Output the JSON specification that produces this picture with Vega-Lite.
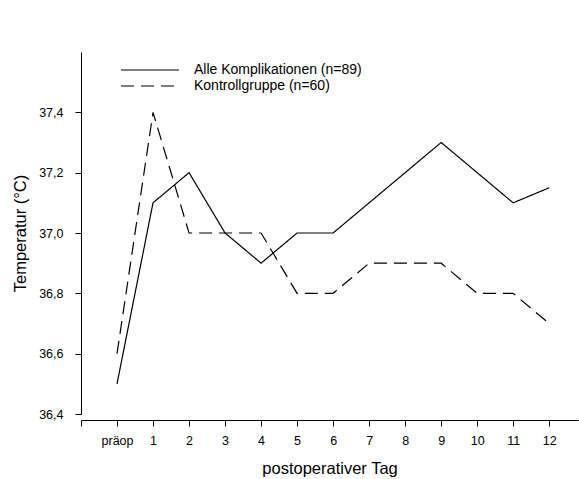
{
  "$schema": "https://vega.github.io/schema/vega-lite/v6.json",
  "width": 497,
  "height": 362,
  "autosize": {"type": "none"},
  "padding": {"left": 81, "top": 52, "right": 1, "bottom": 65},
  "background": "white",
  "config": {
    "view": {"stroke": null},
    "font": "Liberation Sans",
    "axis": {"grid": false, "domainColor": "black", "tickColor": "black", "labelColor": "black", "titleColor": "black", "labelFont": "Liberation Sans", "titleFont": "Liberation Sans", "titleFontWeight": "normal", "labelFontSize": 12.5, "titleFontSize": 16.5, "tickSize": 6, "domainWidth": 1, "tickWidth": 1}
  },
  "data": {"values": [
    {"g": "Alle Komplikationen (n=89)", "tag": 0, "t": 36.5},
    {"g": "Alle Komplikationen (n=89)", "tag": 1, "t": 37.1},
    {"g": "Alle Komplikationen (n=89)", "tag": 2, "t": 37.2},
    {"g": "Alle Komplikationen (n=89)", "tag": 3, "t": 37.0},
    {"g": "Alle Komplikationen (n=89)", "tag": 4, "t": 36.9},
    {"g": "Alle Komplikationen (n=89)", "tag": 5, "t": 37.0},
    {"g": "Alle Komplikationen (n=89)", "tag": 6, "t": 37.0},
    {"g": "Alle Komplikationen (n=89)", "tag": 7, "t": 37.1},
    {"g": "Alle Komplikationen (n=89)", "tag": 8, "t": 37.2},
    {"g": "Alle Komplikationen (n=89)", "tag": 9, "t": 37.3},
    {"g": "Alle Komplikationen (n=89)", "tag": 10, "t": 37.2},
    {"g": "Alle Komplikationen (n=89)", "tag": 11, "t": 37.1},
    {"g": "Alle Komplikationen (n=89)", "tag": 12, "t": 37.15},
    {"g": "Kontrollgruppe (n=60)", "tag": 0, "t": 36.6},
    {"g": "Kontrollgruppe (n=60)", "tag": 1, "t": 37.4},
    {"g": "Kontrollgruppe (n=60)", "tag": 2, "t": 37.0},
    {"g": "Kontrollgruppe (n=60)", "tag": 3, "t": 37.0},
    {"g": "Kontrollgruppe (n=60)", "tag": 4, "t": 37.0},
    {"g": "Kontrollgruppe (n=60)", "tag": 5, "t": 36.8},
    {"g": "Kontrollgruppe (n=60)", "tag": 6, "t": 36.8},
    {"g": "Kontrollgruppe (n=60)", "tag": 7, "t": 36.9},
    {"g": "Kontrollgruppe (n=60)", "tag": 8, "t": 36.9},
    {"g": "Kontrollgruppe (n=60)", "tag": 9, "t": 36.9},
    {"g": "Kontrollgruppe (n=60)", "tag": 10, "t": 36.8},
    {"g": "Kontrollgruppe (n=60)", "tag": 11, "t": 36.8},
    {"g": "Kontrollgruppe (n=60)", "tag": 12, "t": 36.7}
  ]},
  "mark": {"type": "line", "color": "black", "strokeWidth": 1.2, "clip": false},
  "encoding": {
    "x": {
      "field": "tag", "type": "quantitative",
      "scale": {"domain": [-1, 12.8], "nice": false, "zero": false},
      "axis": {
        "title": "postoperativer Tag",
        "values": [-1, 0, 1, 2, 3, 4, 5, 6, 7, 8, 9, 10, 11, 12],
        "labelExpr": "datum.value == 0 ? 'präop' : (datum.value < 0 ? '' : format(datum.value, 'd'))",
        "offset": 6,
        "labelPadding": 8,
        "titleY": 48,
        "titleBaseline": "middle"
      }
    },
    "y": {
      "field": "t", "type": "quantitative",
      "scale": {"domain": [36.4, 37.6], "nice": false, "zero": false},
      "axis": {
        "title": "Temperatur (°C)",
        "values": [36.4, 36.6, 36.8, 37.0, 37.2, 37.4],
        "labelExpr": "replace(format(datum.value, '.1f'), '.', ',')",
        "labelPadding": 12,
        "titleX": -61,
        "titleY": 181,
        "titleBaseline": "middle"
      }
    },
    "strokeDash": {
      "field": "g", "type": "nominal",
      "scale": {"domain": ["Alle Komplikationen (n=89)", "Kontrollgruppe (n=60)"], "range": [[1, 0], [13, 7]]},
      "legend": {
        "title": null,
        "orient": "none",
        "legendX": 39,
        "legendY": 10,
        "symbolType": "stroke",
        "symbolSize": 3364,
        "clipHeight": 16,
        "symbolStrokeColor": "black",
        "symbolStrokeWidth": 1.2,
        "labelFontSize": 14,
        "labelLimit": 400,
        "labelFont": "Liberation Sans",
        "labelColor": "black",
        "labelOffset": 14,
        "rowPadding": 0
      }
    }
  }
}
